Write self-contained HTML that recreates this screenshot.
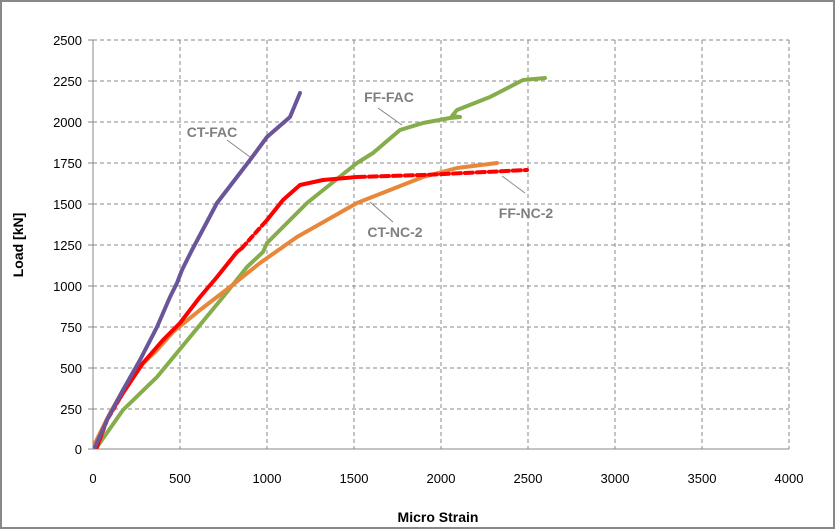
<!DOCTYPE html>
<html><head><style>
html,body{margin:0;padding:0;background:#fff}
svg{display:block}
text{font-family:"Liberation Sans Narrow","Liberation Sans",sans-serif}
</style></head><body>
<svg width="836" height="530" viewBox="0 0 836 530" xmlns="http://www.w3.org/2000/svg">
<rect x="1" y="1" width="833" height="527" fill="#fff" stroke="#888" stroke-width="2"/>
<g stroke="#8a8a8a" stroke-width="1" stroke-dasharray="4,3" fill="none">
<line x1="93" y1="40" x2="789" y2="40"/><line x1="93" y1="81" x2="789" y2="81"/>
<line x1="93" y1="122" x2="789" y2="122"/><line x1="93" y1="163" x2="789" y2="163"/>
<line x1="93" y1="204" x2="789" y2="204"/><line x1="93" y1="245" x2="789" y2="245"/>
<line x1="93" y1="286" x2="789" y2="286"/><line x1="93" y1="327" x2="789" y2="327"/>
<line x1="93" y1="368" x2="789" y2="368"/><line x1="93" y1="409" x2="789" y2="409"/>
<line x1="180" y1="40" x2="180" y2="449"/><line x1="267" y1="40" x2="267" y2="449"/>
<line x1="354" y1="40" x2="354" y2="449"/><line x1="441" y1="40" x2="441" y2="449"/>
<line x1="528" y1="40" x2="528" y2="449"/><line x1="615" y1="40" x2="615" y2="449"/>
<line x1="702" y1="40" x2="702" y2="449"/><line x1="789" y1="40" x2="789" y2="449"/>
</g>
<g stroke="#888" stroke-width="1">
<line x1="93" y1="40" x2="93" y2="449"/><line x1="93" y1="449" x2="789" y2="449"/>
<line x1="88" y1="40" x2="93" y2="40"/><line x1="88" y1="81" x2="93" y2="81"/><line x1="88" y1="122" x2="93" y2="122"/><line x1="88" y1="163" x2="93" y2="163"/><line x1="88" y1="204" x2="93" y2="204"/><line x1="88" y1="245" x2="93" y2="245"/><line x1="88" y1="286" x2="93" y2="286"/><line x1="88" y1="327" x2="93" y2="327"/><line x1="88" y1="368" x2="93" y2="368"/><line x1="88" y1="409" x2="93" y2="409"/><line x1="88" y1="449" x2="93" y2="449"/>
</g>
<g font-size="13" fill="#000" text-anchor="end">
<text x="82" y="45">2500</text><text x="82" y="86">2250</text><text x="82" y="127">2000</text><text x="82" y="168">1750</text><text x="82" y="209">1500</text><text x="82" y="250">1250</text><text x="82" y="291">1000</text><text x="82" y="332">750</text><text x="82" y="373">500</text><text x="82" y="414">250</text><text x="82" y="454">0</text>
</g>
<g font-size="13" fill="#000" text-anchor="middle">
<text x="93" y="483">0</text><text x="180" y="483">500</text><text x="267" y="483">1000</text><text x="354" y="483">1500</text><text x="441" y="483">2000</text><text x="528" y="483">2500</text><text x="615" y="483">3000</text><text x="702" y="483">3500</text><text x="789" y="483">4000</text>
</g>
<text x="438" y="522" font-size="14" font-weight="bold" text-anchor="middle">Micro Strain</text>
<text transform="translate(23,245) rotate(-90)" font-size="14" font-weight="bold" text-anchor="middle">Load [kN]</text>
<g fill="none" stroke-linejoin="round" stroke-linecap="round" stroke-width="4">
<polyline stroke="#86ad4c" points="97,447 123,410 157,377 190,337 223,297 247,267 263,252 267,243 307,203 357,163 373,153 400,130 423,123 450,118 460,117 452,116 457,110 490,97 523,80 545,78"/>
<polyline stroke="#e8873a" points="95,443 110,413 133,373 157,350 173,332 200,310 230,287 260,263 297,237 357,203 390,190 423,177 457,168 497,163"/>
<polyline stroke="#ff0000" stroke-dasharray="5,3" points="97,447 107,420 120,398"/>
<polyline stroke="#ff0000" points="120,398 123,393 143,363 163,340 180,323 200,297 217,277 237,252 242,248"/>
<polyline stroke="#ff0000" stroke-dasharray="6,4" points="242,248 267,220"/>
<polyline stroke="#ff0000" points="267,220 283,200 300,185 323,180 357,177"/>
<polyline stroke="#ff0000" stroke-dasharray="8,4" points="357,177 423,175 527,170"/>
<polyline stroke="#6a559a" points="95,447 107,420 123,390 140,360 157,327 170,297 177,283 182,270 192,250 217,203 250,160 267,137 290,117 300,93"/>
</g>
<g stroke="#888" stroke-width="1">
<line x1="227" y1="140" x2="250" y2="157"/><line x1="378" y1="108" x2="402" y2="125"/>
<line x1="393" y1="222" x2="370" y2="202"/><line x1="525" y1="193" x2="502" y2="176"/>
</g>
<g font-size="14" font-weight="bold" fill="#7f7f7f" text-anchor="middle">
<text x="212" y="137">CT-FAC</text><text x="389" y="102">FF-FAC</text>
<text x="395" y="237">CT-NC-2</text><text x="526" y="218">FF-NC-2</text>
</g>
</svg>
</body></html>
